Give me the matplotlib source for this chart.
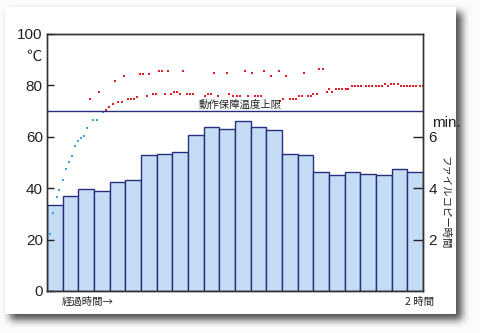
import numpy as np
import matplotlib
matplotlib.use("Agg")
import matplotlib.pyplot as plt

plt.rcParams['font.family'] = ['Liberation Sans', 'Noto Sans CJK JP']

# file copy time per 5-minute slot (min)
copy_min = [3.35, 3.70, 3.96, 3.90, 4.25, 4.31, 5.27, 5.33, 5.40, 6.07, 6.38, 6.28,
            6.60, 6.39, 6.24, 5.33, 5.27, 4.62, 4.51, 4.62, 4.54, 4.51, 4.74, 4.64]
slot_width = 5  # minutes

# temperature readings (elapsed minutes, deg C)
blue_t = [1.0, 2.0, 3.1, 3.9, 5.0, 6.1, 7.0, 8.0, 8.9, 9.9, 10.9, 11.9, 12.9, 14.8, 15.9, 17.8]
blue_v = [22.2, 30.4, 36.5, 39.3, 43.3, 47.4, 50.3, 52.4, 56.4, 58.4, 59.4, 60.4, 63.4, 66.4, 66.4, 69.4]

red_t = [13.7, 16.7, 18.8, 19.9, 21.0, 21.7, 22.8, 23.8, 24.7, 25.8, 26.7, 27.7, 28.7, 29.7,
         30.7, 31.8, 32.7, 33.7, 34.7, 35.6, 36.7, 37.7, 38.5, 39.6, 40.6, 41.5, 42.5, 43.5,
         44.6, 45.6, 46.7, 50.4, 51.5, 52.3, 53.4, 54.7, 57.5, 58.2, 59.5, 60.5, 61.6, 63.2,
         64.3, 65.3, 66.4, 67.3, 68.3, 69.3, 71.4, 74.1, 74.4, 75.4, 76.3, 77.6, 78.4, 79.4,
         80.4, 81.5, 82.1, 83.4, 84.3, 85.0, 86.1, 86.9, 88.0, 89.3, 90.0, 91.1, 92.1, 93.2,
         94.2, 95.3, 96.2, 97.2, 98.2, 99.2, 100.2, 101.7, 102.8, 103.8, 104.9, 106.0, 106.9,
         107.9, 108.9, 109.8, 110.9, 111.9, 112.9, 113.9, 114.9, 115.9, 116.9, 117.9, 118.9, 119.9]
red_v = [74.5, 77.4, 70.4, 71.6, 72.5, 81.5, 73.4, 73.4, 83.5, 74.5, 74.5, 74.5, 75.4, 84.4,
         84.4, 75.6, 84.4, 76.5, 76.5, 85.6, 85.6, 76.5, 85.5, 76.5, 77.4, 77.4, 76.5, 85.6,
         76.5, 76.5, 76.5, 75.6, 76.5, 76.5, 84.6, 75.6, 84.6, 76.5, 75.6, 75.6, 75.6, 85.6,
         75.6, 84.6, 75.6, 75.6, 75.6, 85.6, 83.5, 85.6, 73.7, 74.6, 83.5, 74.6, 74.6, 74.6,
         75.6, 75.6, 84.6, 75.6, 75.6, 76.5, 76.5, 86.4, 86.4, 77.4, 78.5, 77.4, 78.5, 78.5,
         78.5, 78.5, 78.5, 79.8, 79.8, 79.8, 79.8, 79.8, 79.8, 79.8, 79.8, 79.8, 79.8,
         80.5, 79.8, 80.5, 80.5, 80.5, 79.8, 79.8, 79.8, 79.8, 79.8, 79.8, 79.8, 79.8]

limit_temp = 70
limit_label = "動作保障温度上限"

W, H = 480, 333
fig = plt.figure(figsize=(W / 100, H / 100), dpi=100)

# screenshot card with drop shadow
bg = np.ones((H, W, 3)) * 0.985
mask = np.zeros((H, W))
mask[12:320, 10:462] = 1.0
k = np.ones(9) / 9
for _ in range(2):
    mask = np.apply_along_axis(lambda r: np.convolve(r, k, mode='same'), 1, mask)
    mask = np.apply_along_axis(lambda c: np.convolve(c, k, mode='same'), 0, mask)
bg = bg * (1 - 0.68 * mask[:, :, None])
bg[7:314, 5:456] = 1.0
fig.figimage(bg, 0, 0, zorder=-10)
fig.patch.set_alpha(0)

ax = fig.add_axes([47 / W, 1 - 291 / H, 376 / W, 257.3 / H])
ax2 = ax.twinx()
ax.set_zorder(ax2.get_zorder() + 1)
ax.patch.set_visible(False)
ax2.patch.set_facecolor('white')

centers = [slot_width * i + slot_width / 2 for i in range(len(copy_min))]
ax2.bar(centers, copy_min, width=slot_width, color='#c4dcf4', edgecolor='#26307a', linewidth=1.0)
ax2.set_ylim(0, 10)
ax2.set_yticks([2, 4, 6])
ax2.tick_params(axis='y', direction='in', length=7, width=1, pad=4, labelsize=11, colors='#222222')

ax.scatter(blue_t, blue_v, s=4, color='#3fa0dc', marker='s', linewidths=0)
ax.scatter(red_t, red_v, s=4, color='#e01f26', marker='s', linewidths=0)
ax.axhline(limit_temp, color='#26307a', lw=1.0)
ax.text(61.6, 72.2, limit_label, ha='center', va='center', fontsize=7.5,
        family=['Noto Sans CJK JP'], color='#222222')

ax.set_xlim(0, 120)
ax.set_ylim(0, 100)
ax.set_xticks([])
ax.set_yticks([0, 20, 40, 60, 80, 100])
ax.tick_params(axis='y', direction='in', length=5, width=1, pad=3, labelsize=11, colors='#222222')
for a in (ax, ax2):
    for s in a.spines.values():
        s.set_color('#333333')
        s.set_linewidth(1.0)

ax.text(-0.035, 0.91, "℃", transform=ax.transAxes, ha='center', va='center',
        fontsize=11, family=['Noto Sans CJK JP'], color='#222222')
ax.text(1.024, 0.652, "min.", transform=ax.transAxes, ha='left', va='center',
        fontsize=11, color='#222222')
ax.text(0.04, -0.042, "経過時間→", transform=ax.transAxes, ha='left', va='center',
        fontsize=7.5, family=['Noto Sans CJK JP', 'DejaVu Sans'], color='#222222')
ax.text(0.992, -0.042, "2 時間", transform=ax.transAxes, ha='center', va='center',
        fontsize=7.5, family=['Noto Sans CJK JP'], color='#222222')
ax.text(1.056, 0.342, "ファイルコピー時間", transform=ax.transAxes, ha='center', va='center',
        rotation=270, fontsize=7.5, family=['Noto Sans CJK JP'], color='#222222')

fig.savefig("out.png", dpi=100)
